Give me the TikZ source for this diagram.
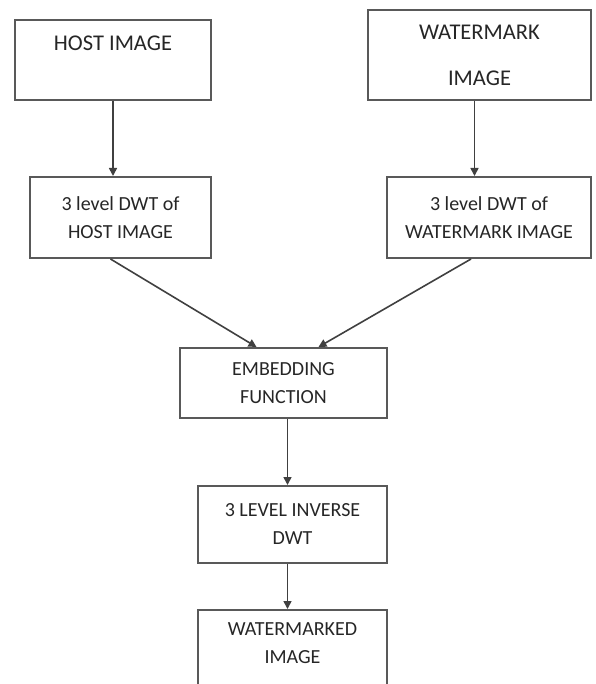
\documentclass[tikz,border=0pt]{standalone}
\usepackage{fontspec}
\setmainfont{Carlito}
\usetikzlibrary{arrows.meta}

\begin{document}
\begin{tikzpicture}[x=1pt, y=-1pt, box node/.style={rectangle,draw=black!65,line width=2pt,inner sep=0pt,align=center,text=black!85,font=\fontsize{20}{28}\selectfont}, top node/.style={box node,font=\fontsize{22.5}{46}\selectfont}]%
\useasboundingbox (0,0) rectangle (595,684);
\clip (0,0) rectangle (595,684);
\begin{scope}
\node[top node, minimum width=196pt, minimum height=80pt, text depth=34pt] (host) at (113,60) {HOST IMAGE};
\node[top node, minimum width=223pt, minimum height=90pt] (wmark) at (479.5,55) {WATERMARK\\IMAGE};
\node[box node, minimum width=181pt, minimum height=81pt] (hostdwt) at (120.5,217.5) {3 level DWT of\\HOST IMAGE};
\node[box node, minimum width=204pt, minimum height=81pt] (wmdwt) at (489,217.5) {3 level DWT of\\WATERMARK IMAGE};
\node[box node, minimum width=207pt, minimum height=70pt] (embed) at (283.5,383) {EMBEDDING\\FUNCTION};
\node[box node, minimum width=189pt, minimum height=77pt] (idwt) at (292.5,524.5) {3 LEVEL INVERSE\\DWT};
\node[box node, minimum width=189pt, minimum height=110pt, text depth=43pt] (wmked) at (292.5,665) {WATERMARKED\\IMAGE};
\end{scope}
\begin{scope}[every edge/.style={draw=black!75,line width=1.6pt,-{Triangle[length=8pt,width=8pt]}}]
\draw (host.south) edge (host.south |- hostdwt.north);
\draw ([xshift=-5pt]wmark.south) edge ([xshift=-5pt]wmark.south |- wmdwt.north);
\draw ([xshift=-10pt]hostdwt.south) edge ([xshift=-27pt]embed.north);
\draw ([xshift=-18pt]wmdwt.south) edge ([xshift=35pt]embed.north);
\draw ([xshift=4pt]embed.south) edge ([xshift=4pt]embed.south |- idwt.north);
\draw ([xshift=-5pt]idwt.south) edge ([xshift=-5pt]idwt.south |- wmked.north);
\end{scope}
\end{tikzpicture}
\end{document}
